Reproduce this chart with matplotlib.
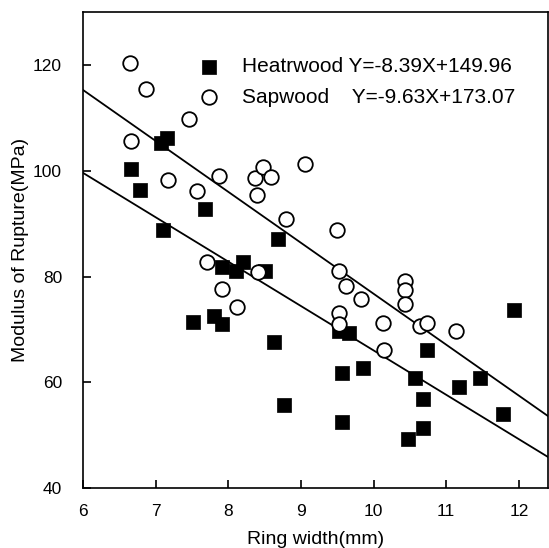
import matplotlib
matplotlib.use("Agg")
import matplotlib.pyplot as plt
import numpy as np

plt.rcParams['font.family'] = ['Liberation Sans', 'DejaVu Sans']

heart_x = [6.66, 6.79, 7.08, 7.16, 7.10, 7.68, 7.52, 7.81, 7.92, 7.92, 8.11, 8.21,
           8.51, 8.69, 8.63, 8.77, 9.53, 9.66, 9.56, 9.56, 9.86, 10.74, 10.57, 10.68,
           10.68, 10.48, 11.17, 11.46, 11.78, 11.94]
heart_y = [100.4, 96.4, 105.3, 106.2, 88.9, 92.8, 71.5, 72.6, 81.9, 71.1, 81.1, 82.8,
           81.0, 87.2, 67.7, 55.7, 69.8, 69.4, 61.7, 52.5, 62.8, 66.2, 60.8, 56.8,
           51.3, 49.4, 59.2, 60.9, 54.0, 73.6]

sap_x = [6.65, 6.87, 7.46, 6.66, 7.17, 7.57, 7.88, 8.37, 8.48, 8.59, 8.40, 9.06,
         8.80, 7.71, 7.92, 8.12, 8.41, 9.50, 9.52, 9.62, 9.83, 9.53, 9.53, 10.13,
         10.15, 10.43, 10.43, 10.44, 10.64, 10.74, 11.14]
sap_y = [120.4, 115.5, 109.8, 105.7, 98.3, 96.2, 99.1, 98.7, 100.8, 98.9, 95.5, 101.3,
         90.9, 82.8, 77.7, 74.2, 80.8, 88.9, 81.1, 78.3, 75.8, 73.2, 71.1, 71.3,
         66.2, 79.2, 77.5, 74.9, 70.6, 71.3, 69.8]

heart_fit = (-8.39, 149.96)
sap_fit = (-9.63, 173.07)

x_ticks = [6, 7, 8, 9, 10, 11, 12]
y_ticks = [40, 60, 80, 100, 120]

fig = plt.figure(figsize=(5.49, 5.48), dpi=100)
ax = fig.add_axes([0.151, 0.109, 0.847, 0.869])

ax.scatter(heart_x, heart_y, marker='s', s=95, c='black', edgecolors='black',
           linewidths=0.5, label='Heatrwood Y=-8.39X+149.96', zorder=3)
ax.scatter(sap_x, sap_y, marker='o', s=110, facecolors='white', edgecolors='black',
           linewidths=1.3, label='Sapwood    Y=-9.63X+173.07', zorder=3)

xl = np.array([6.0, 12.4])
ax.plot(xl, heart_fit[0] * xl + heart_fit[1], color='black', lw=1.3, zorder=2)
ax.plot(xl, sap_fit[0] * xl + sap_fit[1], color='black', lw=1.3, zorder=2)

ax.set_xlim(6, 12.4)
ax.set_ylim(40, 130)
ax.set_xticks(x_ticks)
ax.set_yticks(y_ticks)
ax.tick_params(direction='in', length=6, width=1.2, labelsize=12.5)
ax.tick_params(axis='x', pad=11)
ax.tick_params(axis='y', pad=15)
for sp in ax.spines.values():
    sp.set_linewidth(1.2)

ax.set_xlabel('Ring width(mm)', fontsize=14, labelpad=9)
ax.set_ylabel('Modulus of Rupture(MPa)', fontsize=14, labelpad=3)

leg = ax.legend(loc='upper left', bbox_to_anchor=(0.249, 0.905), frameon=False,
                fontsize=15, handlelength=1.0, handletextpad=1.09, labelspacing=0.55,
                borderpad=0, borderaxespad=0)

fig.savefig('out.png', dpi=100)
